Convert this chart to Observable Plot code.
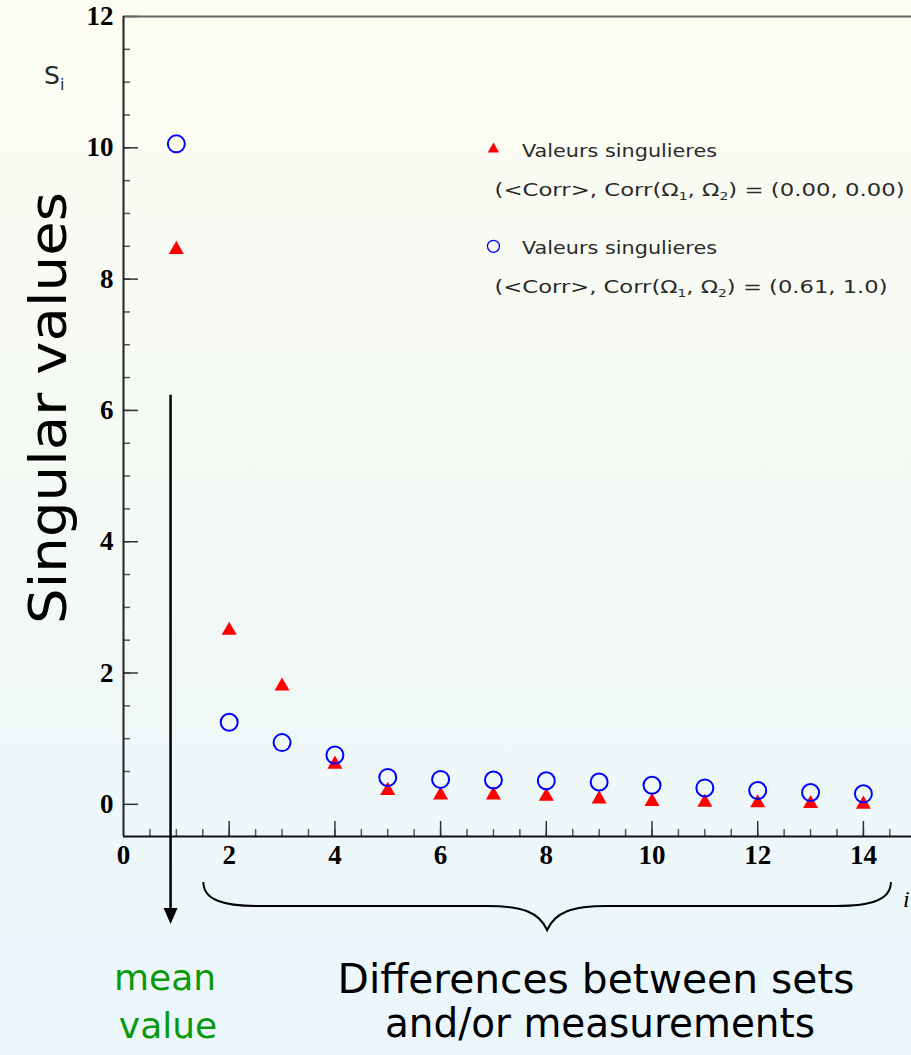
<!DOCTYPE html>
<html>
<head>
<meta charset="utf-8">
<script src="https://cdn.jsdelivr.net/npm/d3@7"></script>
<script src="https://cdn.jsdelivr.net/npm/@observablehq/plot@0.6"></script>
<style>
html, body { margin: 0; padding: 0; width: 911px; height: 1055px; overflow: hidden;
  background: linear-gradient(to bottom, #fdfdf2 0%, #f5faf4 40%, #eaf6fc 100%); }
#chart svg { display: block; background: transparent !important; overflow: visible; }
</style>
</head>
<body>
<div id="chart"></div>
<script>
// ---- data ----
const index = [1, 2, 3, 4, 5, 6, 7, 8, 9, 10, 11, 12, 13, 14];
const svNoCorr = [8.45, 2.65, 1.80, 0.61, 0.21, 0.14, 0.14, 0.12, 0.08, 0.04, 0.03, 0.02, 0.01, 0.00];
const svCorr   = [10.06, 1.25, 0.94, 0.75, 0.41, 0.38, 0.37, 0.36, 0.34, 0.29, 0.25, 0.21, 0.18, 0.16];
const xTickLabels = [0, 2, 4, 6, 8, 10, 12, 14];
const yTickLabels = [0, 2, 4, 6, 8, 10, 12];
const xMinorTicks = d3.range(0.5, 15, 0.5);
const yMinorTicks = d3.range(0.5, 12, 0.5);
const legendTitles = ["Valeurs singulieres", "Valeurs singulieres"];
const legendValues = ["(0.00, 0.00)", "(0.61, 1.0)"];
const legendY = [9.98, 8.5];

const tri = index.map((x, i) => ({x, y: svNoCorr[i]}));
const circ = index.map((x, i) => ({x, y: svCorr[i]}));

const W = 911, H = 1055, mT = 16, mB = 219, mL = 123, mR = 0;
const innerW = W - mL - mR, innerH = H - mT - mB;
const sans = "'DejaVu Sans', sans-serif";
const serif = "'Liberation Serif', 'Times New Roman', serif";

const plot = Plot.plot({
  width: W, height: H,
  marginTop: mT, marginBottom: mB, marginLeft: mL, marginRight: mR,
  style: {background: "transparent", overflow: "visible"},
  x: {domain: [0, 14.91], axis: null},
  y: {domain: [-0.49, 12], axis: null},
  marks: [
    Plot.ruleX(xMinorTicks, {x: d => d, insetTop: innerH - 7, stroke: "#555", strokeWidth: 1.5}),
    Plot.ruleX(xTickLabels.filter(d => d > 0), {x: d => d, insetTop: innerH - 15, stroke: "#333", strokeWidth: 1.5}),
    Plot.ruleY(yMinorTicks, {y: d => d, insetRight: innerW - 7, stroke: "#555", strokeWidth: 1.5}),
    Plot.ruleY(yTickLabels, {y: d => d, insetRight: innerW - 15, stroke: "#333", strokeWidth: 1.5}),
    Plot.ruleY([12], {stroke: "#666", strokeWidth: 2}),
    Plot.ruleY([-0.49], {stroke: "#111", strokeWidth: 2}),
    Plot.ruleX([0], {stroke: "#222", strokeWidth: 2}),
    Plot.text(xTickLabels, {x: d => d, frameAnchor: "bottom", dy: 27, text: d => String(d),
      fontFamily: serif, fontWeight: "bold", fontSize: 27, fill: "#000"}),
    Plot.text(yTickLabels, {y: d => d, frameAnchor: "left", textAnchor: "end", dx: -10, text: d => String(d),
      fontFamily: serif, fontWeight: "bold", fontSize: 27, fill: "#000"}),
    Plot.dot(tri, {x: "x", y: "y", symbol: "triangle", r: 5.6, fill: "#ff0000", stroke: "none"}),
    Plot.dot(circ, {x: "x", y: "y", symbol: "circle", r: 8.5, fill: "none", stroke: "#0000ff", strokeWidth: 2}),
    Plot.dot([{x: 7, y: legendY[0]}], {x: "x", y: "y", symbol: "triangle", r: 4.2, fill: "#ff0000", stroke: "none"}),
    Plot.dot([{x: 7, y: legendY[1]}], {x: "x", y: "y", symbol: "circle", r: 6, fill: "none", stroke: "#0000ff", strokeWidth: 1.3})
  ]
});
document.getElementById("chart").appendChild(plot);

// ---- annotations ----
const svg = d3.select(plot);
const xs = v => plot.scale("x").apply(v);
const ys = v => plot.scale("y").apply(v);
const axisY = ys(-0.49);

legendTitles.forEach((t, i) => {
  const yb = ys(legendY[i]);
  svg.append("text").attr("x", xs(7.55)).attr("y", yb + 8).attr("text-anchor", "start")
    .attr("font-family", sans).attr("font-size", 18).attr("fill", "#2a2a2a")
    .attr("textLength", 195).attr("lengthAdjust", "spacingAndGlyphs").text(t);
  const s = svg.append("text").attr("x", xs(7.03)).attr("y", yb + 47).attr("text-anchor", "start")
    .attr("font-family", sans).attr("font-size", 18).attr("fill", "#2a2a2a")
    .attr("textLength", i === 0 ? 410 : 393).attr("lengthAdjust", "spacingAndGlyphs");
  s.append("tspan").text("(<Corr>, Corr(\u03A9");
  s.append("tspan").attr("font-size", 11).attr("dy", 4).text("1");
  s.append("tspan").attr("dy", -4).text(", \u03A9");
  s.append("tspan").attr("font-size", 11).attr("dy", 4).text("2");
  s.append("tspan").attr("dy", -4).text(") = " + legendValues[i]);
});

const si = svg.append("text").attr("x", 44).attr("y", 84).attr("text-anchor", "start")
  .attr("font-family", sans).attr("font-size", 25).attr("fill", "#2a2a2a");
si.append("tspan").text("S");
si.append("tspan").attr("font-size", 16).attr("dy", 6).text("i");

svg.append("text").attr("transform", `translate(66,${408}) rotate(-90)`)
  .attr("text-anchor", "middle").attr("font-family", sans)
  .attr("font-size", 52).attr("fill", "#000").attr("textLength", 432).attr("lengthAdjust", "spacingAndGlyphs")
  .text("Singular values");

const ax = xs(0.9);
svg.append("line").attr("x1", ax).attr("x2", ax).attr("y1", ys(6.23)).attr("y2", axisY + 75)
  .attr("stroke", "#000").attr("stroke-width", 2.5);
svg.append("path").attr("d", `M${ax - 7},${axisY + 72} L${ax + 7},${axisY + 72} L${ax},${axisY + 88} Z`).attr("fill", "#000");

const bx1 = xs(1.52), bx2 = xs(14.53), bm = (bx1 + bx2) / 2;
const bt = axisY + 46, bh = axisY + 70, btip = axisY + 94;
svg.append("path")
  .attr("d", `M${bx1},${bt} C${bx1},${bh - 6} ${bx1 + 20},${bh} ${bx1 + 55},${bh}
    L${bm - 60},${bh} C${bm - 25},${bh} ${bm - 8},${bh + 6} ${bm},${btip}
    C${bm + 8},${bh + 6} ${bm + 25},${bh} ${bm + 60},${bh}
    L${bx2 - 55},${bh} C${bx2 - 20},${bh} ${bx2},${bh - 6} ${bx2},${bt}`)
  .attr("fill", "none").attr("stroke", "#000").attr("stroke-width", 2);

svg.append("text").attr("x", 903).attr("y", 907).attr("text-anchor", "start").attr("font-family", serif).attr("font-style", "italic")
  .attr("font-size", 24).attr("fill", "#000").text("i");

svg.append("text").attr("x", 165).attr("y", 990).attr("text-anchor", "middle").attr("font-family", sans)
  .attr("font-size", 36).attr("fill", "#0a990a").text("mean");
svg.append("text").attr("x", 168).attr("y", 1038).attr("text-anchor", "middle").attr("font-family", sans)
  .attr("font-size", 36).attr("fill", "#0a990a").text("value");
svg.append("text").attr("x", 596).attr("y", 993).attr("text-anchor", "middle").attr("font-family", sans)
  .attr("font-size", 40).attr("fill", "#000").attr("textLength", 517).attr("lengthAdjust", "spacingAndGlyphs")
  .text("Differences between sets");
svg.append("text").attr("x", 600).attr("y", 1037).attr("text-anchor", "middle").attr("font-family", sans)
  .attr("font-size", 40).attr("fill", "#000").attr("textLength", 430).attr("lengthAdjust", "spacingAndGlyphs")
  .text("and/or measurements");
</script>
</body>
</html>
